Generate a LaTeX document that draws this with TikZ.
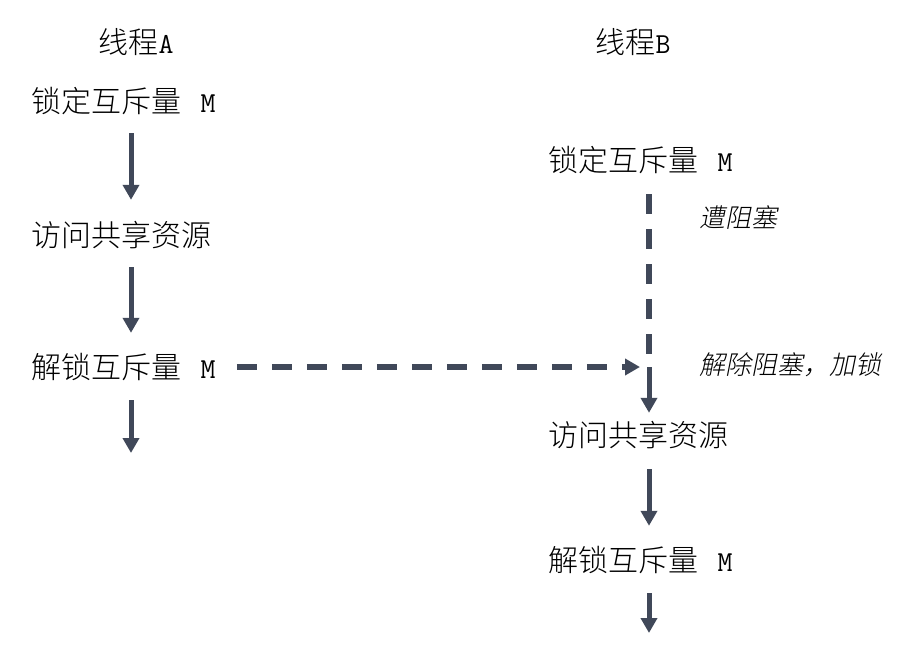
\documentclass[tikz,border=0pt]{standalone}
\usepackage{fontspec}
\setmainfont{Noto Sans CJK SC}[UprightFont={* Light}]
\newfontfamily\cjkit{Noto Sans CJK SC}[UprightFont={* Light},FakeSlant=0.2]
\usetikzlibrary{arrows.meta,calc}
\definecolor{arrc}{RGB}{64,72,89}
\newcommand{\mtag}{\hspace{19bp}{\ttfamily\fontsize{29bp}{32bp}\selectfont M}}
\newcommand{\mlat}[1]{{\ttfamily\fontsize{29bp}{32bp}\selectfont #1}}
\begin{document}
\begin{tikzpicture}[x=1bp,y=-1bp,
  lbl/.style={inner sep=0pt, anchor=west, font=\fontsize{30bp}{36bp}\selectfont, text height=26.4bp, text depth=3.6bp},
  note/.style={inner sep=0pt, anchor=west, font=\cjkit\fontsize{26bp}{30bp}\selectfont, text height=22.9bp, text depth=3.1bp},
  arr/.style={draw=arrc, line width=5bp, -{Triangle[width=16bp,length=15bp]}},
  dsh/.style={draw=arrc, line width=5.5bp, dash pattern=on 20bp off 15bp}]
\useasboundingbox (0,0) rectangle (918,657);
\coordinate (ca) at (131,0);
\coordinate (cb) at (649,0);
% headers
\node[lbl] (ha) at (98.5,42) {线程\mlat{A}};
\node[lbl] (hb) at (595.5,42) {线程\mlat{B}};
% thread A
\node[lbl] (a1) at (31.5,101) {锁定互斥量\mtag};
\node[lbl] (a2) at (31.5,235) {访问共享资源};
\node[lbl] (a3) at (31.5,367) {解锁互斥量\mtag};
% thread B
\node[lbl] (b1) at (548.5,160) {锁定互斥量\mtag};
\node[lbl] (b2) at (548.5,435) {访问共享资源};
\node[lbl] (b3) at (548.5,560) {解锁互斥量\mtag};
% notes
\node[note] (n1) at (699,218) {遭阻塞};
\node[note] (n2) at (699,365) {解除阻塞，加锁};
% coordinates
\coordinate (aend) at (131,453);
\coordinate (bend) at (649,633);
\coordinate (j) at (649,367);
% arrows A
\draw[arr, shorten <=17bp, shorten >=20bp] (a1.south -| ca) -- (a2.north -| ca);
\draw[arr, shorten <=17bp, shorten >=19bp] (a2.south -| ca) -- (a3.north -| ca);
\draw[arr, shorten <=18bp] (a3.south -| ca) -- (aend);
% arrows B
\draw[dsh, shorten <=19bp, shorten >=10bp] (b1.south -| cb) -- (j);
\draw[arr, shorten >=7bp] (j) -- (b2.north -| cb);
\draw[arr, shorten <=19bp, shorten >=19bp] (b2.south -| cb) -- (b3.north -| cb);
\draw[arr, shorten <=18bp] (b3.south -| cb) -- (bend);
% unlock signal
\draw[dsh, -{Triangle[width=16bp,length=15bp]}, shorten <=21bp, shorten >=9bp] (a3.east) -- (j);
\end{tikzpicture}
\end{document}
